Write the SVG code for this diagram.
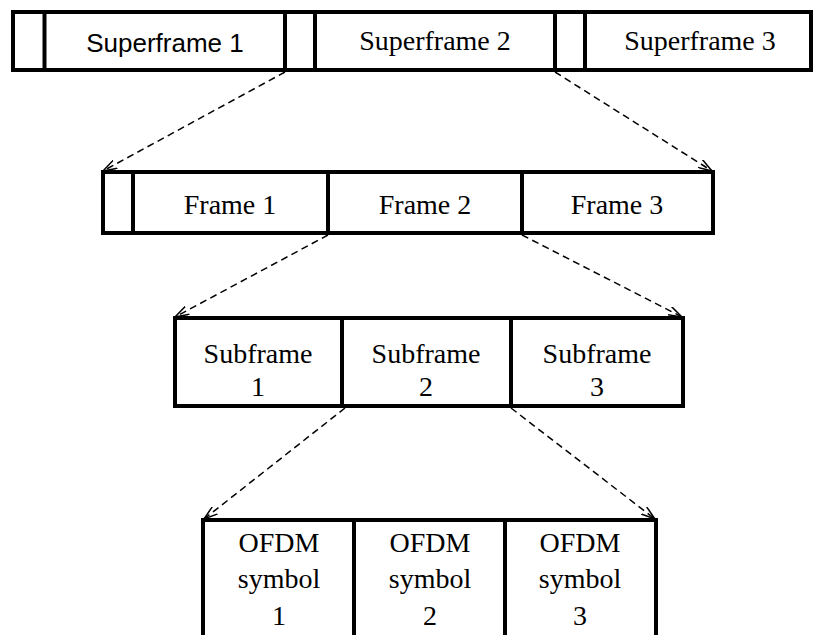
<svg xmlns="http://www.w3.org/2000/svg" width="817" height="635" viewBox="0 0 817 635">
<style>
.box{fill:#fff;stroke:#000;stroke-width:4}
.div{stroke:#000;stroke-width:4}
.t{font-family:"Liberation Serif","Times New Roman",serif;font-size:28px;fill:#000;text-anchor:middle}
.s{font-family:"Liberation Sans",Arial,sans-serif;font-size:26px;fill:#000;text-anchor:middle}
.c{fill:none;stroke:#000;stroke-width:1.5;stroke-dasharray:7 4.5}
</style>
<defs>
<marker id="ah" markerUnits="userSpaceOnUse" viewBox="0 0 14 10" refX="14" refY="5" markerWidth="14" markerHeight="10" orient="auto">
<path d="M0,0.5 L14,5 L0,9.5" fill="none" stroke="#000" stroke-width="1.5" stroke-dasharray="none"/>
</marker>
</defs>
<rect width="817" height="635" fill="#fff"/>
<g id="superframes">
<rect class="box" x="13" y="12" width="798" height="58"/>
<line class="div" x1="44.5" y1="12" x2="44.5" y2="70"/>
<line class="div" x1="285" y1="12" x2="285" y2="70"/>
<line class="div" x1="315" y1="12" x2="315" y2="70"/>
<line class="div" x1="555" y1="12" x2="555" y2="70"/>
<line class="div" x1="585" y1="12" x2="585" y2="70"/>
<text class="s" x="165" y="52">Superframe 1</text>
<text class="t" x="435" y="50">Superframe 2</text>
<text class="t" x="700" y="50">Superframe 3</text>
</g>
<g id="frames">
<rect class="box" x="103" y="172" width="610" height="61"/>
<line class="div" x1="133" y1="172" x2="133" y2="233"/>
<line class="div" x1="328" y1="172" x2="328" y2="233"/>
<line class="div" x1="522" y1="172" x2="522" y2="233"/>
<text class="t" x="230" y="214">Frame 1</text>
<text class="t" x="425" y="214">Frame 2</text>
<text class="t" x="617" y="214">Frame 3</text>
</g>
<g id="subframes">
<rect class="box" x="175" y="318" width="508" height="88"/>
<line class="div" x1="342" y1="318" x2="342" y2="406"/>
<line class="div" x1="511" y1="318" x2="511" y2="406"/>
<text class="t" x="258" y="363">Subframe</text>
<text class="t" x="258" y="396">1</text>
<text class="t" x="426" y="363">Subframe</text>
<text class="t" x="426" y="396">2</text>
<text class="t" x="597" y="363">Subframe</text>
<text class="t" x="597" y="396">3</text>
</g>
<g id="ofdm">
<path d="M203,640 V520 H656 V640" fill="none" stroke="#000" stroke-width="4"/>
<line class="div" x1="354" y1="520" x2="354" y2="640"/>
<line class="div" x1="505" y1="520" x2="505" y2="640"/>
<text class="t" x="279" y="552">OFDM</text>
<text class="t" x="279" y="588">symbol</text>
<text class="t" x="279" y="625">1</text>
<text class="t" x="430" y="552">OFDM</text>
<text class="t" x="430" y="588">symbol</text>
<text class="t" x="430" y="625">2</text>
<text class="t" x="580" y="552">OFDM</text>
<text class="t" x="580" y="588">symbol</text>
<text class="t" x="580" y="625">3</text>
</g>
<g id="connectors">
<line class="c" x1="285" y1="72" x2="103" y2="171" marker-end="url(#ah)"/>
<line class="c" x1="555" y1="72" x2="712" y2="171" marker-end="url(#ah)"/>
<line class="c" x1="328" y1="235" x2="175" y2="317" marker-end="url(#ah)"/>
<line class="c" x1="522" y1="235" x2="682" y2="317" marker-end="url(#ah)"/>
<line class="c" x1="345" y1="408" x2="204" y2="519" marker-end="url(#ah)"/>
<line class="c" x1="511" y1="408" x2="655" y2="519" marker-end="url(#ah)"/>
</g>
</svg>
